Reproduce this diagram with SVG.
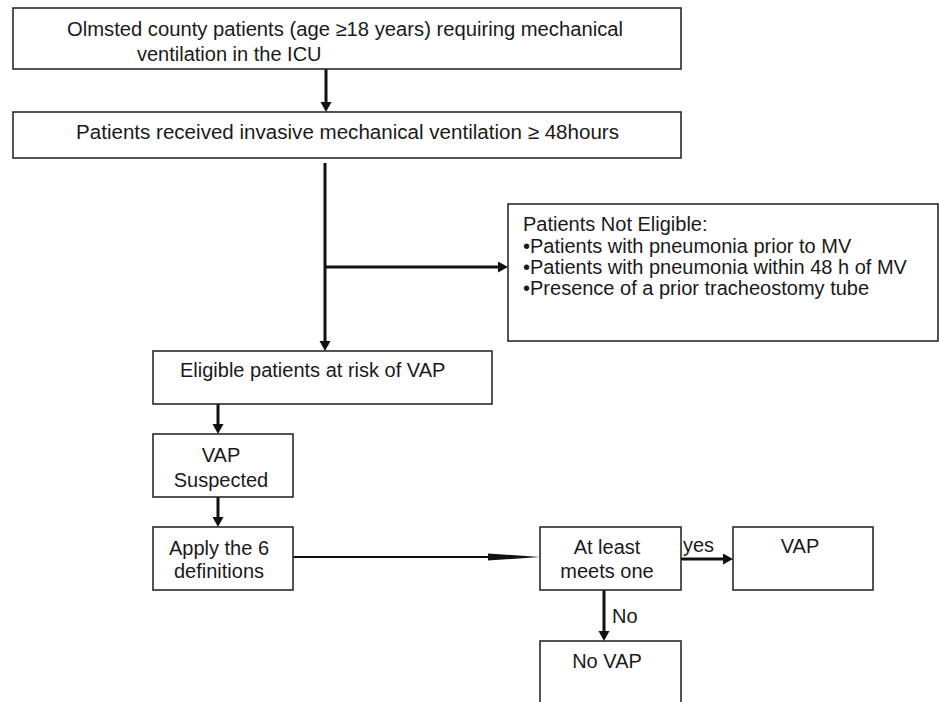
<svg xmlns="http://www.w3.org/2000/svg" width="939" height="702" viewBox="0 0 939 702">
<style>
.box{fill:#ffffff;stroke:#2a2a2a;stroke-width:1.6}
.t{font-family:"Liberation Sans",Arial,sans-serif;font-size:20px;fill:#1a1a1a}
.m{text-anchor:middle}
.c{stroke:#111;stroke-width:3;fill:none}
.c2{stroke:#111;stroke-width:2;fill:none}
</style>
<defs>
<marker id="ah" markerUnits="userSpaceOnUse" markerWidth="12" markerHeight="12" refX="2" refY="5.5" orient="auto">
<path d="M0,0 L10,5.5 L0,11 z" fill="#111"/>
</marker>
</defs>
<rect width="939" height="702" fill="#ffffff"/>

<g id="connectors">
<line class="c" x1="326" y1="69" x2="326" y2="104" marker-end="url(#ah)"/>
<line class="c" x1="325" y1="163" x2="325" y2="343" marker-end="url(#ah)"/>
<line class="c" x1="325" y1="267" x2="500" y2="267" marker-end="url(#ah)"/>
<line class="c" x1="218" y1="404" x2="218" y2="426" marker-end="url(#ah)"/>
<line class="c" x1="218" y1="497" x2="218" y2="519" marker-end="url(#ah)"/>
<line class="c2" x1="293" y1="557" x2="492" y2="557"/>
<polygon points="488,553.5 540,557 488,560.5" fill="#111"/>
<line class="c" x1="681" y1="559" x2="725" y2="559" marker-end="url(#ah)"/>
<line class="c" x1="604" y1="590" x2="604" y2="633" marker-end="url(#ah)"/>
<text class="t" x="683" y="552">yes</text>
<text class="t" x="612" y="623">No</text>
</g>

<g id="n1">
<rect class="box" x="13" y="8" width="668" height="61"/>
<text class="t" x="67" y="36" textLength="556" lengthAdjust="spacingAndGlyphs">Olmsted county patients (age ≥18 years) requiring mechanical</text>
<text class="t" x="137" y="61">ventilation in the ICU</text>
</g>

<g id="n2">
<rect class="box" x="13" y="112" width="668" height="46"/>
<text class="t" x="76" y="139" textLength="543" lengthAdjust="spacingAndGlyphs">Patients received invasive mechanical ventilation ≥ 48hours</text>
</g>

<g id="n3">
<rect class="box" x="508" y="204" width="430" height="137"/>
<text class="t" x="523" y="231">Patients Not Eligible:</text>
<text class="t" x="523" y="253">•Patients with pneumonia prior to MV</text>
<text class="t" x="523" y="274">•Patients with pneumonia within 48 h of MV</text>
<text class="t" x="523" y="295">•Presence of a prior tracheostomy tube</text>
</g>

<g id="n4">
<rect class="box" x="153" y="351" width="339" height="53"/>
<text class="t" x="180" y="377">Eligible patients at risk of VAP</text>
</g>

<g id="n5">
<rect class="box" x="153" y="434" width="140" height="63"/>
<text class="t m" x="221" y="462">VAP</text>
<text class="t m" x="221" y="487">Suspected</text>
</g>

<g id="n6">
<rect class="box" x="153" y="527" width="140" height="63"/>
<text class="t m" x="219" y="555">Apply the 6</text>
<text class="t m" x="219" y="578">definitions</text>
</g>

<g id="n7">
<rect class="box" x="540" y="527" width="141" height="63"/>
<text class="t m" x="607" y="554">At least</text>
<text class="t m" x="607" y="578">meets one</text>
</g>

<g id="n8">
<rect class="box" x="733" y="527" width="140" height="63"/>
<text class="t m" x="800" y="553">VAP</text>
</g>

<g id="n9">
<rect class="box" x="540" y="641" width="141" height="80"/>
<text class="t m" x="607" y="668">No VAP</text>
</g>
</svg>
